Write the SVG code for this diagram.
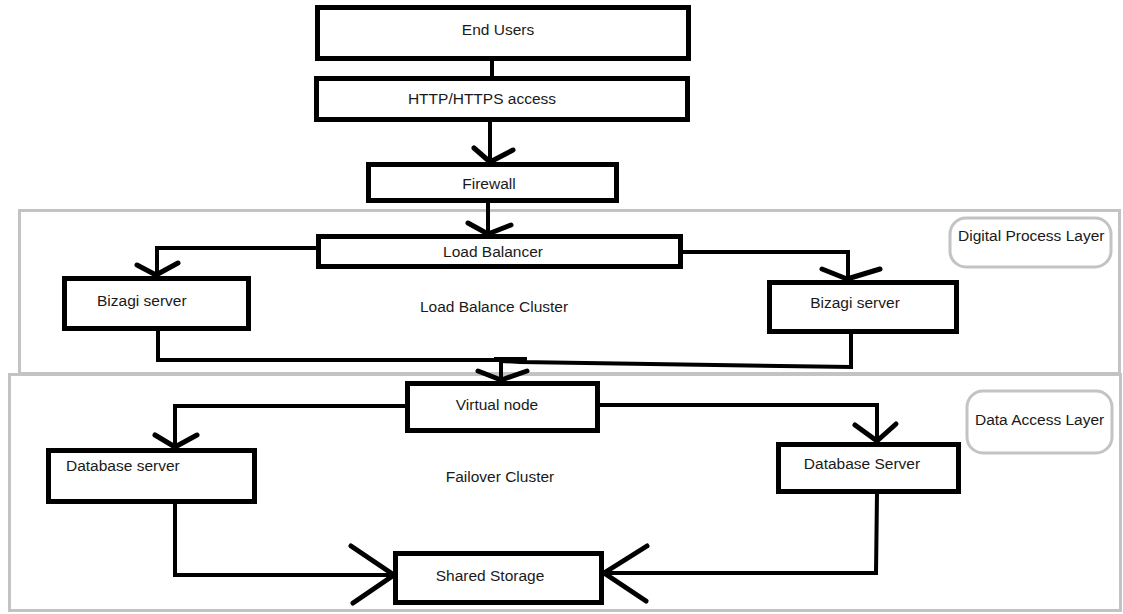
<svg xmlns="http://www.w3.org/2000/svg" width="1123" height="614" viewBox="0 0 1123 614">
<style>
.bg{fill:#ffffff}
.layer{fill:none;stroke:#c3c3c3;stroke-width:3}
.tag{fill:#ffffff;stroke:#c3c3c3;stroke-width:3}
.box{fill:#ffffff;stroke:#000000;stroke-width:5}
.ln{fill:none;stroke:#000000;stroke-width:4;stroke-linejoin:miter}
.ah{fill:none;stroke:#000000;stroke-width:5;stroke-linecap:round;stroke-linejoin:round}
text{font-family:"Liberation Sans",Arial,sans-serif;font-size:15.5px;fill:#1a1a1a}
.c{text-anchor:middle}
</style>
<rect class="bg" x="0" y="0" width="1123" height="614"/>
<g id="layer-digital">
  <rect class="layer" x="19.5" y="210.5" width="1100" height="163"/>
  <rect class="tag" x="950" y="218" width="161" height="49" rx="16"/>
  <text x="958" y="241">Digital Process Layer</text>
  <text class="c" x="494" y="312">Load Balance Cluster</text>
</g>
<g id="layer-data">
  <rect class="layer" x="9.5" y="374.5" width="1111" height="236"/>
  <rect class="tag" x="967" y="391" width="145" height="62" rx="16"/>
  <text x="975" y="425">Data Access Layer</text>
  <text class="c" x="500" y="482">Failover Cluster</text>
</g>
<g id="connectors">
  <line class="ln" x1="492" y1="60" x2="492" y2="78"/>
  <line class="ln" x1="490" y1="121" x2="490" y2="163"/>
  <polyline class="ah" points="474,148 490,162 513,150"/>
  <line class="ln" x1="488" y1="201" x2="488" y2="235"/>
  <polyline class="ah" points="468,223 488,234 511,225"/>
  <polyline class="ln" points="318,248 157,248 157,277"/>
  <polyline class="ah" points="137,265 156,275 178,263"/>
  <polyline class="ln" points="680,252 848,252 848,281"/>
  <polyline class="ah" points="822,269 847,279 880,269"/>
  <polyline class="ln" points="158,329 158,360 501,360"/>
  <polyline class="ln" points="851,332 851,367 650,364 520,362 501,361"/>
  <polyline class="ln" points="501,359 501,381"/>
  <line class="ln" x1="494" y1="359" x2="527" y2="359"/>
  <polyline class="ah" points="478,371 501,380 527,371"/>
  <polyline class="ln" points="407,406 175,406 175,448"/>
  <polyline class="ah" points="155,435 175,447 197,435"/>
  <polyline class="ln" points="598,405 877,405 877,443"/>
  <polyline class="ah" points="855,425 877,441 896,424"/>
  <polyline class="ln" points="175,502 175,575 395,575"/>
  <polyline class="ah" points="351,546 394,575 353,603"/>
  <polyline class="ln" points="877,493 876,573 603,573"/>
  <polyline class="ah" points="647,546 604,573 646,601"/>
</g>
<g id="end-users">
  <rect class="box" x="317.5" y="7.5" width="371" height="51"/>
  <text class="c" x="498" y="35">End Users</text>
</g>
<g id="http-access">
  <rect class="box" x="316.5" y="78.5" width="371" height="41"/>
  <text class="c" x="482" y="104">HTTP/HTTPS access</text>
</g>
<g id="firewall">
  <rect class="box" x="368.5" y="164.5" width="248" height="36"/>
  <text class="c" x="489" y="189">Firewall</text>
</g>
<g id="load-balancer">
  <rect class="box" x="318.5" y="236.5" width="362" height="30"/>
  <text class="c" x="493" y="257">Load Balancer</text>
</g>
<g id="bizagi-left">
  <rect class="box" x="64.5" y="278.5" width="184" height="50"/>
  <text x="97" y="306">Bizagi server</text>
</g>
<g id="bizagi-right">
  <rect class="box" x="769.5" y="282.5" width="187" height="49"/>
  <text class="c" x="855" y="308">Bizagi server</text>
</g>
<g id="virtual-node">
  <rect class="box" x="407.5" y="383.5" width="190" height="47"/>
  <text class="c" x="497" y="410">Virtual node</text>
</g>
<g id="db-left">
  <rect class="box" x="48.5" y="450.5" width="206" height="51"/>
  <text x="66" y="471">Database server</text>
</g>
<g id="db-right">
  <rect class="box" x="778.5" y="444.5" width="180" height="47"/>
  <text class="c" x="862" y="469">Database Server</text>
</g>
<g id="shared-storage">
  <rect class="box" x="395.5" y="553.5" width="206" height="49"/>
  <text class="c" x="490" y="581">Shared Storage</text>
</g>
</svg>
